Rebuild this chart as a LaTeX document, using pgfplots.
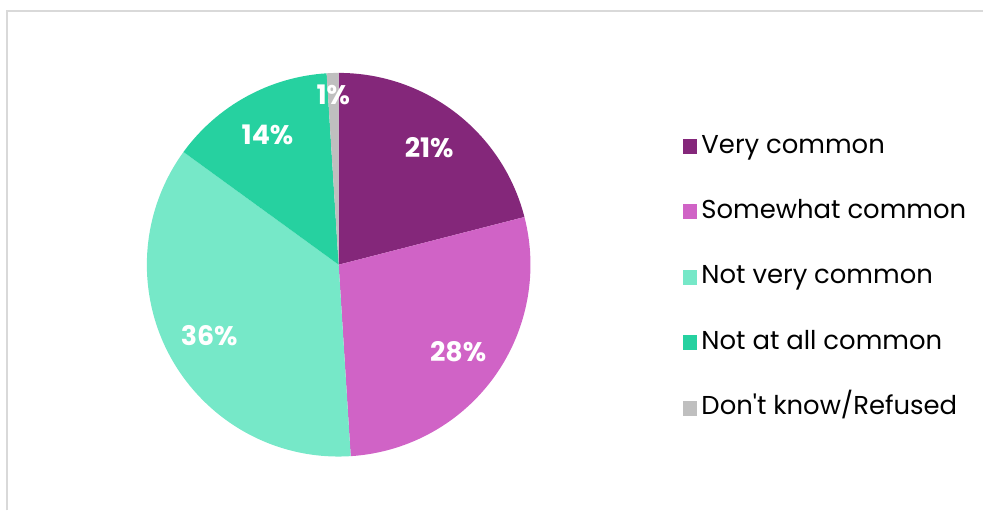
\documentclass[border=0pt]{standalone}
\usepackage{fontspec}
\setmainfont{Poppins}
\usepackage{pgfplots}
\usepackage{pgfplotstable}
\pgfplotsset{compat=1.18}

\definecolor{vc}{HTML}{84277A}
\definecolor{sw}{HTML}{D063C6}
\definecolor{nv}{HTML}{76E8C8}
\definecolor{na}{HTML}{26D1A0}
\definecolor{dk}{HTML}{BFBFBF}
\definecolor{frame}{HTML}{D9D9D9}

% share in percent, fill colour, label radius (fraction of pie radius)
\pgfplotstableread{
share col lr
21 vc 0.77
28 sw 0.77
36 nv 0.77
14 na 0.77
1  dk 0.885
}\piedata

\begin{document}
\begin{tikzpicture}
\begin{axis}[
    scale only axis,
    width=984bp, height=511bp,
    xmin=0, xmax=984, ymin=0, ymax=511,
    hide axis, clip=false,
    legend style={
        at={(axis cs:680,378)}, anchor=north west,
        draw=none, fill=none,
        font=\fontsize{26}{26}\selectfont,
        nodes={inner sep=0pt, text height=18bp, text depth=5bp},
        row sep=42.5bp, column sep=4bp,
    },
    legend cell align=left,
    legend image code/.code={\fill[#1] (0bp,-7.5bp) rectangle (15bp,7.5bp);},
]
\path (axis cs:0,0) rectangle (axis cs:984,511);
\draw[frame, line width=2bp] (axis cs:7.5,0) |- (axis cs:984,499.5);

\pgfplotsextra{%
  \gdef\cum{0}%
  \foreach \i in {0,...,4}{%
    \pgfplotstablegetelem{\i}{share}\of\piedata \let\pv\pgfplotsretval
    \pgfplotstablegetelem{\i}{col}\of\piedata \let\pc\pgfplotsretval
    \pgfplotstablegetelem{\i}{lr}\of\piedata \let\pr\pgfplotsretval
    \pgfmathsetmacro\sa{90-3.6*\cum}%
    \pgfmathsetmacro\sb{90-3.6*(\cum+\pv)}%
    \pgfmathsetmacro\sm{(\sa+\sb)/2}%
    \pgfmathsetmacro\rl{\pr*192}%
    \fill[\pc] (axis cs:339,246) -- ++(\sa:192bp)
        arc[start angle=\sa, end angle=\sb, radius=192bp] -- cycle;
    \path (axis cs:339,246) ++(\sm:\rl bp)
        node[text=white, font=\fontsize{27}{27}\selectfont\bfseries] {\pv\%};
    \pgfmathsetmacro\nc{\cum+\pv}%
    \xdef\cum{\nc}%
  }%
}

\addlegendimage{fill=vc, draw=none}
\addlegendentry{Very common}
\addlegendimage{fill=sw, draw=none}
\addlegendentry{Somewhat common}
\addlegendimage{fill=nv, draw=none}
\addlegendentry{Not very common}
\addlegendimage{fill=na, draw=none}
\addlegendentry{Not at all common}
\addlegendimage{fill=dk, draw=none}
\addlegendentry{Don\textquotesingle t know/Refused}
\end{axis}
\end{tikzpicture}
\end{document}
